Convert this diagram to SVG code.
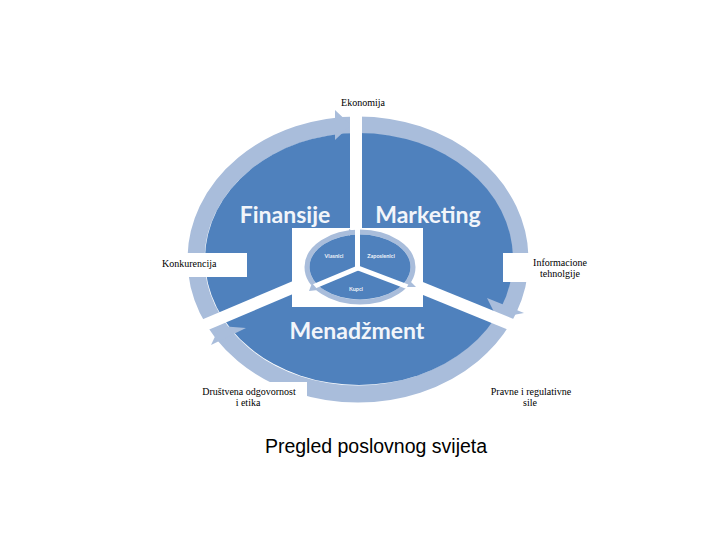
<svg xmlns="http://www.w3.org/2000/svg" width="720" height="540" viewBox="0 0 720 540">
<style>
.ring{fill:none;stroke:#a9bddb}
.pie{fill:#4f81bd}
.arr{fill:#a9bddb}
.cut{stroke:#ffffff;fill:none;stroke-linecap:butt}
.big{font-family:Lato,"Open Sans","Liberation Sans",sans-serif;font-weight:bold;font-size:23px;fill:#f2f5fa;text-anchor:middle}
.small{font-family:Lato,"Liberation Sans",sans-serif;font-weight:bold;font-size:5.5px;fill:#eef2f8;text-anchor:middle}
.lbl{font-family:"Liberation Serif","DejaVu Serif",serif;font-size:10px;fill:#000000}
.mid{text-anchor:middle}
.box{fill:#ffffff}
</style>
<rect width="720" height="540" fill="#ffffff"/>
<g id="cycle">
  <ellipse class="ring" cx="358" cy="259.5" rx="162" ry="134.5" stroke-width="17"/>
  <ellipse class="pie" cx="359" cy="259" rx="154" ry="126"/>
  <polygon class="arr" points="351,125 335,110 335,140"/>
  <polygon class="arr" points="487,298 524,313 497,318"/>
  <polygon class="arr" points="220,326 211,345 246,328"/>
</g>
<g id="connectors">
  <path class="cut" stroke-width="12" d="M356,95 L356,262"/>
  <path class="cut" stroke-width="12" d="M358,260 L188,332"/>
  <path class="cut" stroke-width="12" d="M358,262 L532,333"/>
</g>
<g id="finansije"><text class="big" x="285" y="223">Finansije</text></g>
<g id="marketing"><text class="big" x="428" y="223">Marketing</text></g>
<g id="menadzment"><text class="big" x="357" y="339">Menadžment</text></g>
<g id="center">
  <rect class="box" x="292" y="228" width="131" height="79"/>
  <ellipse class="ring" cx="360" cy="267" rx="53" ry="35" stroke-width="5"/>
  <ellipse class="pie" cx="360" cy="267" rx="50.5" ry="32.5"/>
  <path class="cut" stroke-width="5" d="M357.5,228 L357.5,269"/>
  <path class="cut" stroke-width="5" d="M358,268 L303,291"/>
  <path class="cut" stroke-width="5" d="M358,268 L416,290"/>
  <polygon class="arr" points="355,232.5 349,229 349,236"/>
  <polygon class="arr" points="407,287 410,281 416,287"/>
  <polygon class="arr" points="312,283 309,291 318,290"/>
  <text class="small" x="334" y="258">Vlasnici</text>
  <text class="small" x="381" y="258">Zaposlenici</text>
  <text class="small" x="356" y="291">Kupci</text>
</g>
<g id="ekonomija"><text class="lbl mid" x="363" y="106">Ekonomija</text></g>
<g id="konkurencija">
  <rect class="box" x="155" y="253" width="92" height="24"/>
  <text class="lbl" x="162" y="267">Konkurencija</text>
</g>
<g id="informacione">
  <rect class="box" x="503" y="253" width="95" height="29"/>
  <text class="lbl mid" x="560" y="266">Informacione</text>
  <text class="lbl mid" x="560" y="277">tehnolgije</text>
</g>
<g id="drustvena">
  <rect class="box" x="185" y="382" width="122" height="30"/>
  <text class="lbl mid" x="249" y="395">Društvena odgovornost</text>
  <text class="lbl mid" x="248" y="406">i etika</text>
</g>
<g id="pravne">
  <text class="lbl mid" x="531" y="395">Pravne i regulativne</text>
  <text class="lbl mid" x="530" y="406">sile</text>
</g>
<g id="title"><text x="376" y="453" font-family="'Liberation Sans',Arial,sans-serif" font-size="19.5" text-anchor="middle" fill="#000000">Pregled poslovnog svijeta</text></g>
</svg>
